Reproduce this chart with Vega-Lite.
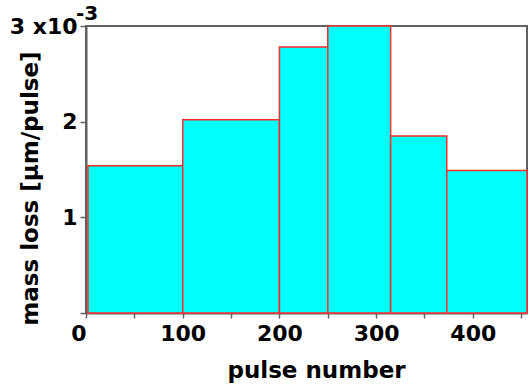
{
  "$schema": "https://vega.github.io/schema/vega-lite/v6.json",
  "width": 441,
  "height": 287,
  "autosize": "none",
  "padding": {"left": 86, "top": 26, "right": 2, "bottom": 74},
  "background": "white",
  "config": {
    "font": "DejaVu Sans",
    "view": {"stroke": "#606060", "strokeWidth": 2},
    "axis": {
      "grid": false,
      "domainColor": "#606060",
      "domainWidth": 2,
      "tickColor": "#606060",
      "tickWidth": 1.5,
      "labelColor": "black",
      "labelFontSize": 22,
      "labelFontWeight": "bold",
      "titleColor": "black",
      "titleFontSize": 23,
      "titleFontWeight": "bold"
    }
  },
  "layer": [
    {
      "data": {
        "values": [
          {"start": 2, "end": 100, "mass_loss_e3": 1.54},
          {"start": 100, "end": 200, "mass_loss_e3": 2.02},
          {"start": 200, "end": 250, "mass_loss_e3": 2.78},
          {"start": 250, "end": 315, "mass_loss_e3": 3.0},
          {"start": 315, "end": 373, "mass_loss_e3": 1.85},
          {"start": 373, "end": 456, "mass_loss_e3": 1.49}
        ]
      },
      "mark": {"type": "rect", "fill": "#00ffff", "stroke": "#ff2a2a", "strokeWidth": 1.5},
      "encoding": {
        "x": {
          "field": "start",
          "type": "quantitative",
          "scale": {"domain": [0, 456], "nice": false, "zero": false},
          "axis": {
            "values": [0, 50, 100, 150, 200, 250, 300, 350, 400, 450],
            "labelExpr": "datum.value % 100 == 0 ? format(datum.value, 'd') : ''",
            "labelAlign": {"condition": {"test": "datum.value == 0", "value": "right"}, "value": "center"},
            "labelFlush": false,
            "tickSize": 5,
            "labelPadding": 5,
            "title": "pulse number",
            "titleX": 230,
            "titleY": 64,
            "titleAlign": "center",
            "titleBaseline": "alphabetic"
          }
        },
        "x2": {"field": "end"},
        "y": {
          "field": "mass_loss_e3",
          "type": "quantitative",
          "scale": {"domain": [0, 3], "nice": false},
          "axis": {
            "values": [0, 1, 2, 3],
            "labelExpr": "datum.value == 3 ? '3 x10' : datum.value == 0 ? '' : format(datum.value, 'd')",
            "tickSize": 6,
            "labelPadding": 3,
            "title": "mass loss [µm/pulse]",
            "titleAngle": -90,
            "titleX": -56,
            "titleY": 162,
            "titleAlign": "center",
            "titleBaseline": "middle"
          }
        },
        "y2": {"datum": 0}
      }
    },
    {
      "data": {"values": [{"pulse": 0, "mass_loss_e3": 3, "exponent": "-3"}]},
      "mark": {"type": "text", "fontSize": 20, "fontWeight": "bold", "color": "black", "align": "center", "baseline": "middle", "dx": 1, "dy": -12},
      "encoding": {
        "x": {"field": "pulse", "type": "quantitative"},
        "y": {"field": "mass_loss_e3", "type": "quantitative"},
        "text": {"field": "exponent"}
      }
    }
  ]
}
